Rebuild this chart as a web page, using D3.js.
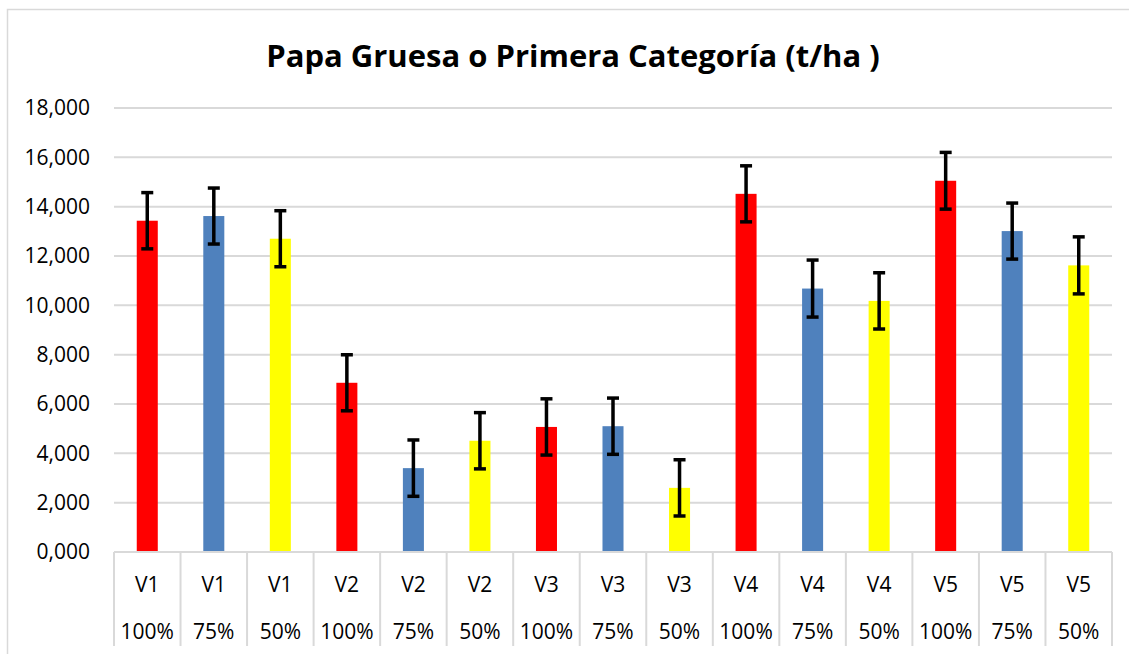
<!doctype html>
<html>
<head>
<meta charset="utf-8">
<script src="https://d3js.org/d3.v7.min.js"></script>
<style>
  body { margin: 0; background: #fff; }
  text { font-family: "Open Sans", "Noto Sans", sans-serif; fill: #000; }
</style>
</head>
<body>
<svg width="1129" height="654"></svg>
<script>
// data
var varieties = ["V1", "V1", "V1", "V2", "V2", "V2", "V3", "V3", "V3", "V4", "V4", "V4", "V5", "V5", "V5"];
var doses = ["100%", "75%", "50%", "100%", "75%", "50%", "100%", "75%", "50%", "100%", "75%", "50%", "100%", "75%", "50%"];
var yields = [13430, 13620, 12700, 6860, 3400, 4510, 5070, 5100, 2600, 14520, 10680, 10180, 15050, 13010, 11620];
var errors = [1140, 1135, 1136, 1136, 1142, 1140, 1140, 1140, 1140, 1136, 1156, 1140, 1150, 1136, 1156];
var doseColors = { "100%": "#ff0000", "75%": "#4f81bd", "50%": "#ffff00" };
var yTicks = [0, 2000, 4000, 6000, 8000, 10000, 12000, 14000, 16000, 18000];

var svg = d3.select("svg");
var plotLeft = 114, plotRight = 1112, plotTop = 108, plotBottom = 552;

// chart border
svg.append("rect")
   .attr("x", 7.5).attr("y", 9.5)
   .attr("width", 1140).attr("height", 700)
   .attr("fill", "none").attr("stroke", "#d9d9d9").attr("stroke-width", 1.5);

svg.append("text")
   .attr("x", 573).attr("y", 67)
   .attr("text-anchor", "middle")
   .attr("font-size", "31px")
   .attr("font-weight", "bold")
   .text("Papa Gruesa o Primera Categoría (t/ha )");

var idx = d3.range(varieties.length);

var x = d3.scaleBand().domain(idx).range([plotLeft, plotRight])
          .paddingInner(0.684).paddingOuter(0.342);
var cell = d3.scaleBand().domain(idx).range([plotLeft, plotRight]);
var y = d3.scaleLinear().domain([0, 18000]).range([plotBottom, plotTop]);

// gridlines
svg.append("g").selectAll("line")
   .data(yTicks.slice(1)).enter().append("line")
   .attr("x1", plotLeft).attr("x2", plotRight)
   .attr("y1", function(d) { return y(d); })
   .attr("y2", function(d) { return y(d); })
   .attr("stroke", "#d9d9d9").attr("stroke-width", 2);

// y tick labels
svg.append("g").selectAll("text")
   .data(yTicks).enter().append("text")
   .attr("x", 90)
   .attr("y", function(d) { return y(d); })
   .attr("dy", "0.35em")
   .attr("text-anchor", "end")
   .attr("font-size", "21px")
   .text(function(d) { return (d === 0 ? "0" : String(d / 1000)) + ",000"; });

// bars
svg.append("g").selectAll("rect")
   .data(idx).enter().append("rect")
   .attr("x", function(i) { return x(i); })
   .attr("width", x.bandwidth())
   .attr("y", function(i) { return y(yields[i]); })
   .attr("height", function(i) { return plotBottom - y(yields[i]); })
   .attr("fill", function(i) { return doseColors[doses[i]]; });

// error bars
var eb = svg.append("g").attr("stroke", "#000").attr("stroke-width", 3.5);
idx.forEach(function(i) {
    var cx = x(i) + x.bandwidth() / 2;
    var hi = y(yields[i] + errors[i]), lo = y(yields[i] - errors[i]);
    eb.append("line").attr("x1", cx).attr("x2", cx).attr("y1", hi).attr("y2", lo);
    eb.append("line").attr("x1", cx - 6).attr("x2", cx + 6).attr("y1", hi).attr("y2", hi);
    eb.append("line").attr("x1", cx - 6).attr("x2", cx + 6).attr("y1", lo).attr("y2", lo);
});

// category axis
var ax = svg.append("g");
ax.append("line")
  .attr("x1", plotLeft).attr("x2", plotRight).attr("y1", plotBottom).attr("y2", plotBottom)
  .attr("stroke", "#d9d9d9").attr("stroke-width", 2);
ax.selectAll(".sep")
  .data(idx.concat([idx.length])).enter().append("line")
  .attr("class", "sep")
  .attr("x1", function(i) { return i < idx.length ? cell(i) : plotRight; })
  .attr("x2", function(i) { return i < idx.length ? cell(i) : plotRight; })
  .attr("y1", plotBottom).attr("y2", 646)
  .attr("stroke", "#d9d9d9").attr("stroke-width", 2);
ax.selectAll(".var")
  .data(idx).enter().append("text")
  .attr("x", function(i) { return cell(i) + cell.bandwidth() / 2; })
  .attr("y", 585).attr("dy", "0.35em")
  .attr("text-anchor", "middle").attr("font-size", "21px")
  .text(function(i) { return varieties[i]; });
ax.selectAll(".dose")
  .data(idx).enter().append("text")
  .attr("x", function(i) { return cell(i) + cell.bandwidth() / 2; })
  .attr("y", 632).attr("dy", "0.35em")
  .attr("text-anchor", "middle").attr("font-size", "21px")
  .text(function(i) { return doses[i]; });
</script>
</body>
</html>
